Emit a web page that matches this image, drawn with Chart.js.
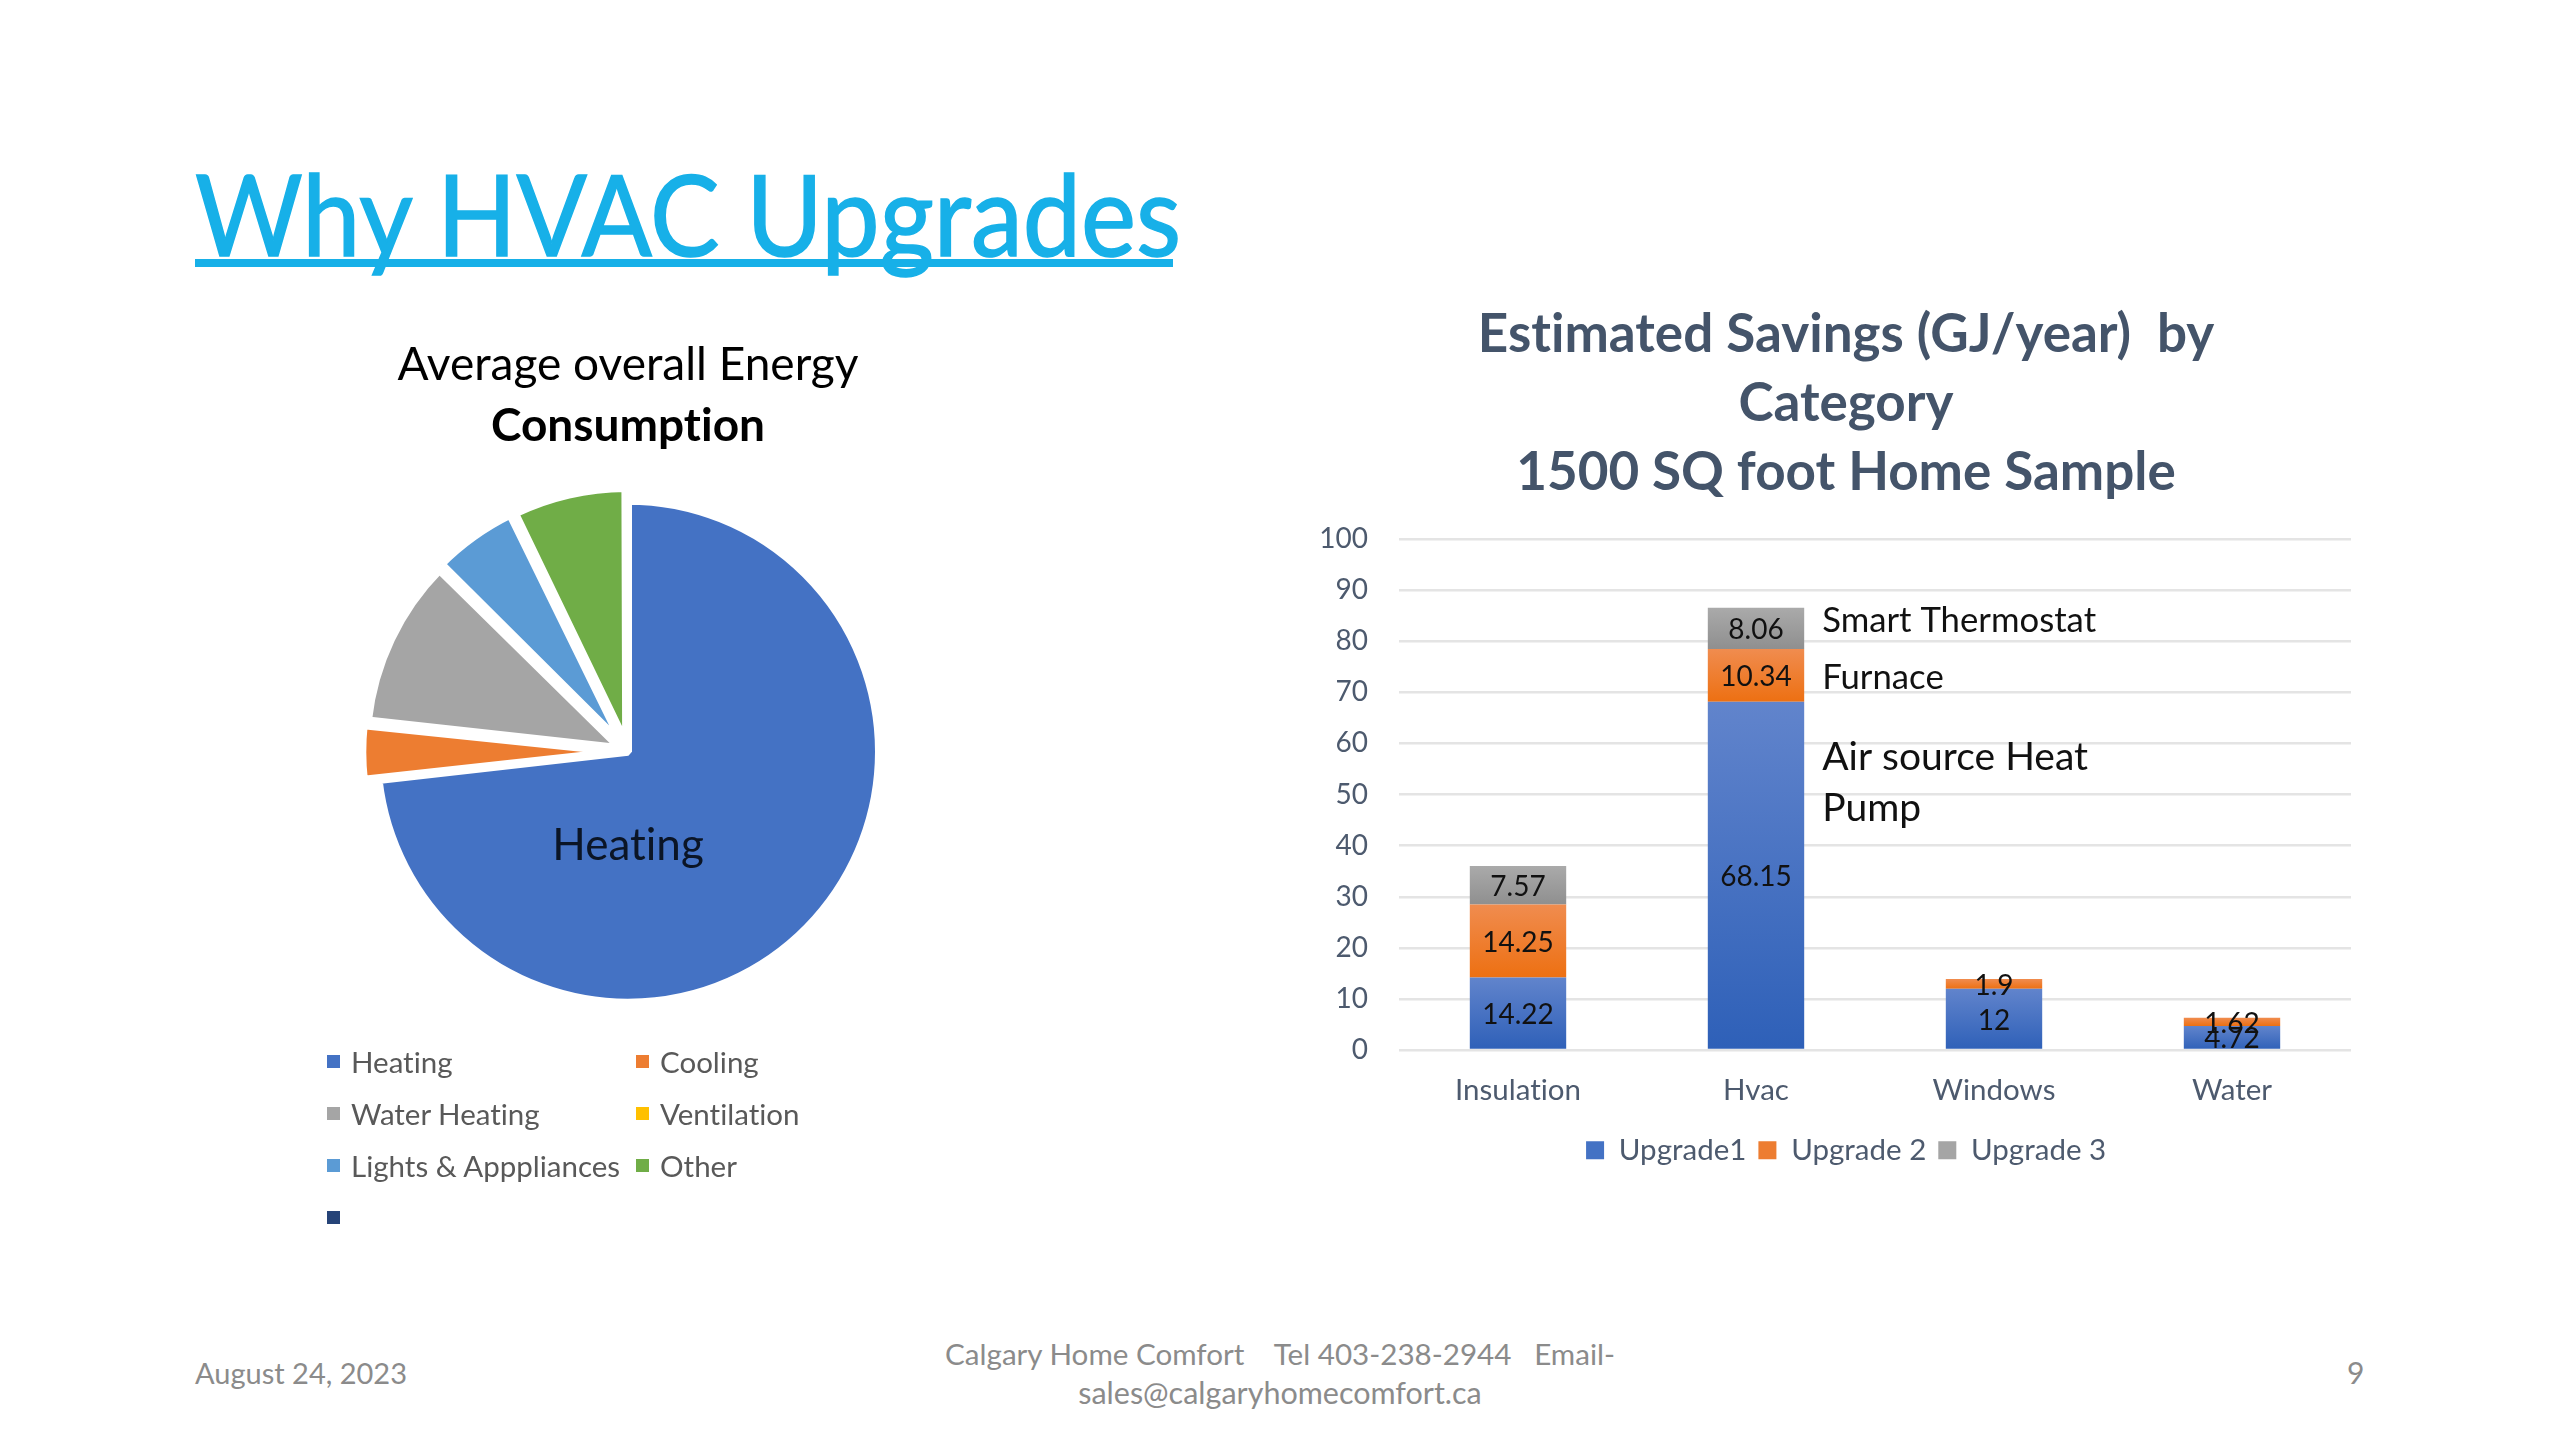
<!DOCTYPE html>
<html>
<head>
<meta charset="utf-8">
<script src="https://cdn.jsdelivr.net/npm/chart.js@4"></script>
<style>
  html, body { margin: 0; background: #fff; width: 2560px; height: 1440px; overflow: hidden; font-family: Lato, sans-serif; font-variant-ligatures: none; }
  canvas { position: absolute; }
  .abs { position: absolute; white-space: nowrap; }
  #slide-title { left: 195px; top: 148px; font-size: 112px; line-height: 130px; color: #17b0e8; -webkit-text-stroke: 1.5px #17b0e8; transform: scaleX(0.93); transform-origin: left top; }
  #title-rule { left: 195px; top: 259px; width: 978px; height: 8px; background: #17b0e8; }
  #date { left: 195px; top: 1355px; font-size: 29px; color: #8b8b8b; }
  #footer { left: 780px; width: 1000px; top: 1334px; font-size: 29.6px; line-height: 39px; color: #8b8b8b; text-align: center; white-space: normal; }
  #footer span { font-size: 30.5px; }
  #page { left: 2347px; top: 1354px; font-size: 30px; color: #8b8b8b; }
  #pie-legend { left: 327px; top: 1040px; width: 560px; display: grid; grid-template-columns: 309px 1fr; grid-auto-rows: 52.3px; font-size: 29.5px; color: #595959; }
  #pie-legend div { display: flex; align-items: center; height: 42px; }
  #pie-legend i { width: 13px; height: 13px; margin-right: 11px; flex: none; }
</style>
</head>
<body>
<div class="abs" id="slide-title">Why HVAC Upgrades</div>
<div class="abs" id="title-rule"></div>
<canvas id="pie-chart" width="800" height="730" style="left:228px;top:320px"></canvas>
<div class="abs" id="pie-legend"></div>
<canvas id="bar-chart" width="1110" height="885" style="left:1290px;top:290px"></canvas>
<div class="abs" id="date">August 24, 2023</div>
<div class="abs" id="footer">Calgary Home Comfort &nbsp;&nbsp; Tel 403-238-2944 &nbsp;&nbsp;Email-<br><span>sales@calgaryhomecomfort.ca</span></div>
<div class="abs" id="page">9</div>

<script>
const pieLabels = ['Heating', 'Cooling', 'Water Heating', 'Ventilation', 'Lights & Apppliances', 'Other', ''];
const pieValues = [73.2, 3.5, 10.7, 0, 5.4, 7.2, 0];
const pieColors = ['#4472c4', '#ed7d31', '#a5a5a5', '#ffc000', '#5b9bd5', '#70ad47', '#264478'];
const pieOffsets = [0, 33, 33, 33, 33, 33, 33];

const barCategories = ['Insulation', 'Hvac', 'Windows', 'Water'];
const upgrade1 = [14.22, 68.15, 12, 4.72];
const upgrade2 = [14.25, 10.34, 1.9, 1.62];
const upgrade3 = [7.57, 8.06, null, null];
const barSwatches = ['#4472c4', '#ed7d31', '#a5a5a5'];
const barNotes = ['Smart Thermostat', 'Furnace', 'Air source Heat', 'Pump'];
const barNoteValues = [84, 72.8, 57.2, 47.3];
const barNoteSizes = [34.7, 34.7, 39, 39];

const FONT = 'Lato, sans-serif';
const TICK_COLOR = '#4d5a6e';

// Upgrade colours run light to dark down each bar segment
function segmentFill(light, dark) {
  return ctx => {
    const { chart, dataIndex, datasetIndex } = ctx;
    const y = chart.scales.y;
    if (!y || dataIndex === undefined) return dark;
    let base = 0;
    for (let i = 0; i < datasetIndex; i++) base += chart.data.datasets[i].data[dataIndex] || 0;
    const value = chart.data.datasets[datasetIndex].data[dataIndex] || 0;
    const y0 = y.getPixelForValue(base + value);
    const y1 = y.getPixelForValue(base);
    if (!isFinite(y0) || !isFinite(y1)) return dark; // scale not laid out yet
    const grad = chart.ctx.createLinearGradient(0, y0, 0, y1);
    grad.addColorStop(0, light);
    grad.addColorStop(1, dark);
    return grad;
  };
}

// tiny letter spacing switches off the Lato ti ligature on canvas
const noLigatures = {
  id: 'noLigatures',
  beforeDraw(chart) { chart.ctx.letterSpacing = '0.01px'; }
};

const pieLabelPlugin = {
  id: 'pieLabel',
  afterDatasetsDraw(chart) {
    const arc = chart.getDatasetMeta(0).data[0];
    const c = chart.ctx;
    c.save();
    c.font = '44px ' + FONT;
    c.fillStyle = '#0b1526';
    c.textAlign = 'center';
    c.textBaseline = 'middle';
    c.fillText(pieLabels[0], arc.x, arc.y + 0.375 * arc.outerRadius);
    c.restore();
  }
};

const barLabelPlugin = {
  id: 'barLabels',
  afterDatasetsDraw(chart) {
    const c = chart.ctx;
    c.save();
    c.textAlign = 'center';
    c.textBaseline = 'middle';
    c.fillStyle = '#111';
    c.font = '28px ' + FONT;
    chart.data.datasets.forEach((ds, d) => {
      chart.getDatasetMeta(d).data.forEach((bar, i) => {
        if (ds.data[i] == null) return;
        c.fillText(String(ds.data[i]), bar.x, (bar.y + bar.base) / 2 + 2);
      });
    });
    // notes beside the Hvac bar
    const hvac = chart.getDatasetMeta(0).data[1];
    c.textAlign = 'left';
    barNotes.forEach((note, i) => {
      c.font = barNoteSizes[i] + 'px ' + FONT;
      c.fillText(note, hvac.x + hvac.width / 2 + 18, chart.scales.y.getPixelForValue(barNoteValues[i]));
    });
    c.restore();
  }
};

new Chart(document.getElementById('pie-chart'), {
  type: 'pie',
  plugins: [noLigatures, pieLabelPlugin],
  data: {
    labels: pieLabels,
    datasets: [{
      data: pieValues,
      backgroundColor: pieColors,
      borderColor: '#fff',
      borderWidth: 8,
      offset: pieOffsets,
      radius: 251
    }]
  },
  options: {
    responsive: false,
    animation: false,
    devicePixelRatio: 1,
    plugins: {
      legend: { display: false },
      tooltip: { enabled: false },
      title: {
        display: true,
        text: 'Average overall Energy',
        color: '#000',
        font: { family: FONT, size: 46, weight: 'normal' },
        padding: { top: 18, bottom: 5 }
      },
      subtitle: {
        display: true,
        text: 'Consumption',
        color: '#000',
        font: { family: FONT, size: 46, weight: 'bold' },
        padding: { bottom: 0 }
      }
    }
  }
});

// legend goes in two columns, so it is built from the same arrays
const legendBox = document.getElementById('pie-legend');
pieLabels.forEach((label, i) => {
  const row = document.createElement('div');
  const swatch = document.createElement('i');
  swatch.style.background = pieColors[i];
  row.appendChild(swatch);
  row.appendChild(document.createTextNode(label));
  legendBox.appendChild(row);
});

new Chart(document.getElementById('bar-chart'), {
  type: 'bar',
  plugins: [noLigatures, barLabelPlugin],
  data: {
    labels: barCategories,
    datasets: [
      { label: 'Upgrade1', data: upgrade1, yAxisID: 'y', backgroundColor: segmentFill('#6184cc', '#2e60b8'), borderWidth: 0 },
      { label: 'Upgrade 2', data: upgrade2, yAxisID: 'y', backgroundColor: segmentFill('#f08c4f', '#ed7012'), borderWidth: 0 },
      { label: 'Upgrade 3', data: upgrade3, yAxisID: 'y', backgroundColor: segmentFill('#aaaaaa', '#8f8f8f'), borderWidth: 0 }
    ]
  },
  options: {
    responsive: false,
    animation: false,
    devicePixelRatio: 1,
    layout: { padding: { right: 18, left: 20 } },
    datasets: { bar: { barPercentage: 0.405, categoryPercentage: 1 } },
    scales: {
      x: {
        stacked: true,
        grid: { display: false },
        border: { display: false },
        ticks: { color: TICK_COLOR, font: { family: FONT, size: 29.5 }, padding: 15 }
      },
      y: {
        stacked: true,
        min: 0,
        max: 100,
        afterFit(scale) { scale.width = 89; },
        grid: { color: '#e4e4e4', lineWidth: 2.5, drawTicks: false },
        border: { display: false },
        ticks: { stepSize: 10, color: TICK_COLOR, font: { family: FONT, size: 28 }, padding: 31 }
      },
      // empty axis: keeps the plot clear of the right side so the title can sit off its centre
      gutter: {
        axis: 'y',
        position: 'right',
        afterFit(scale) { scale.width = 31; },
        grid: { display: false },
        border: { display: false },
        ticks: { display: false }
      }
    },
    plugins: {
      tooltip: { enabled: false },
      title: {
        display: true,
        text: ['Estimated Savings (GJ/year)  by', 'Category', '1500 SQ foot Home Sample'],
        color: '#44546a',
        font: { family: FONT, size: 53, weight: 'bold', lineHeight: 1.302 },
        padding: { top: 10, bottom: 32 }
      },
      legend: {
        position: 'bottom',
        labels: {
          color: TICK_COLOR,
          boxWidth: 18,
          boxHeight: 18,
          font: { family: FONT, size: 29.5 },
          padding: 12,
          // swatches are flat, not the bar gradients
          generateLabels(chart) {
            return Chart.defaults.plugins.legend.labels.generateLabels(chart).map((item, i) => {
              item.fillStyle = barSwatches[i];
              item.lineWidth = 0;
              return item;
            });
          }
        }
      }
    }
  }
});
</script>
</body>
</html>
